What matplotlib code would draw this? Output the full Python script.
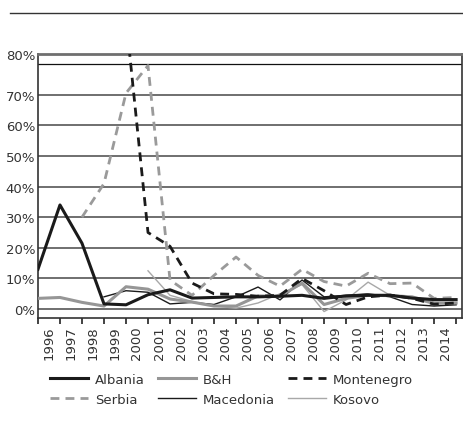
import numpy as np
import matplotlib
matplotlib.use('Agg')
from matplotlib import pyplot as plt
from matplotlib.lines import Line2D

plt.rcParams['font.family'] = ['DejaVu Sans']

nan = np.nan

# Year labels (sit between the tick marks) and the 20 data points per series.
years = [str(y) for y in range(1996, 2015)]

albania = [13, 34, 21.5, 1.7, 1.4, 4.7, 6.3, 3.6, 3.8, 4, 4, 4.2, 4.5, 3.5, 4.3, 4.5, 4.5, 3.6, 3.1, 3.1]
bh = [3.5, 3.8, 2.2, 1, 7.3, 6.5, 3.3, 2.3, 1, 1, 4.3, 4.2, 8.5, 1.5, 3.5, 4.5, 4.4, 4, 2, 2]
montenegro = [nan, nan, nan, nan, 95, 25, 20.5, 8.5, 5, 4.8, 4.2, 4.5, 10, 6, 1.5, 4, 4.6, 3.5, 1.6, 2]
serbia = [nan, nan, 30, 41, 70.5, 79.5, 9.5, 4.5, 11, 17, 11, 7.5, 13, 9, 7.5, 11.7, 8.3, 8.5, 3.5, 3.8]
macedonia = [nan, nan, nan, 4, 6, 5.5, 1.7, 2.2, 1.5, 4, 7.2, 3, 9.5, 4, 4.5, 5, 4, 1.5, 1, 1.4]
kosovo = [nan, nan, nan, nan, nan, 12.5, 4.5, 2.5, 1, 0.3, 2, 5, 8, -0.8, 3, 8.8, 4.5, 3.5, 1.5, 2]

x = np.arange(len(albania))

fig = plt.figure(figsize=(4.63, 4.35), dpi=100)
ax = fig.add_axes([0.082, 0.2667, 0.915, 0.607])

# Grid and frame
for v in range(0, 80, 10):
    ax.axhline(v, color='#6f6f6f', lw=1.4, zorder=1)
ax.axhline(80, color='#111111', lw=0.9, zorder=1)

ax.plot(x, serbia, color='#9a9a9a', lw=2.0, ls=(0, (3.2, 2.2)), zorder=3)
ax.plot(x, kosovo, color='#a8a8a8', lw=1.0, zorder=3)
ax.plot(x, macedonia, color='#1a1a1a', lw=1.0, zorder=4)
ax.plot(x, bh, color='#969696', lw=2.2, zorder=4)
ax.plot(x, albania, color='#1a1a1a', lw=2.2, zorder=5)
ax.plot(x, montenegro, color='#1a1a1a', lw=2.0, ls=(0, (3.2, 2.2)), zorder=6)

ax.set_xlim(0, 19.25)
ax.set_ylim(-2.9, 83.3)

# y axis: 80% label sits at the top of the frame
ax.set_yticks(list(range(0, 80, 10)) + [83.3])
ax.set_yticklabels([f'{v}%' for v in range(0, 80, 10)] + ['80%'])
ax.tick_params(axis='y', length=0, pad=2, labelsize=9.5, labelcolor='#333333')

# x axis: ticks on the points, year labels between them
ax.set_xticks(np.arange(0, 20))
ax.set_xticklabels([])
ax.set_xticks(np.arange(len(years)) + 0.5, minor=True)
ax.set_xticklabels(years, minor=True, rotation=90)
ax.tick_params(axis='x', which='major', direction='out', length=4, width=1.2, color='#222222')
ax.tick_params(axis='x', which='minor', length=0, pad=5, labelsize=9.5, labelcolor='#333333')

for side in ['left', 'bottom', 'right']:
    ax.spines[side].set_color('#333333')
    ax.spines[side].set_linewidth(1.2)
ax.spines['top'].set_color('#6f6f6f')
ax.spines['top'].set_linewidth(2.0)

# Decorative rule at the top of the page
fig.add_artist(Line2D([0.022, 1.0], [0.968, 0.968], color='#333333', lw=1.0))

# Legend (filled column-wise, so order gives rows)
handles = [
    Line2D([], [], color='#1a1a1a', lw=2.2),
    Line2D([], [], color='#9a9a9a', lw=2.0, ls=(0, (3.2, 2.2))),
    Line2D([], [], color='#969696', lw=2.2),
    Line2D([], [], color='#1a1a1a', lw=1.0),
    Line2D([], [], color='#1a1a1a', lw=2.0, ls=(0, (3.2, 2.2))),
    Line2D([], [], color='#a8a8a8', lw=1.0),
]
labels = ['Albania', 'Serbia', 'B&H', 'Macedonia', 'Montenegro', 'Kosovo']
fig.legend(handles, labels, loc='center', bbox_to_anchor=(0.5, 0.103), ncol=3,
           frameon=False, fontsize=9.5, handlelength=2.9, columnspacing=1.0,
           handletextpad=0.5, labelspacing=0.55, labelcolor='#333333')

plt.savefig('out.png', dpi=100)
